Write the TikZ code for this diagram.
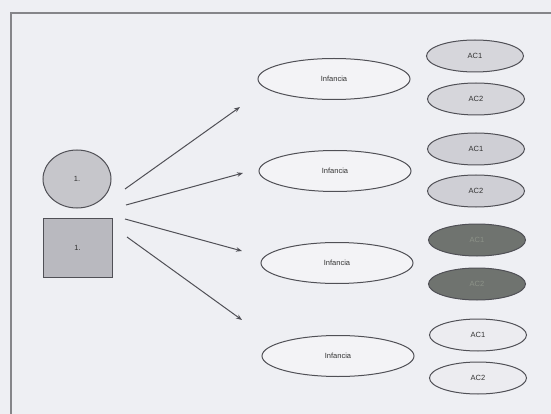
\documentclass[tikz,border=0pt]{standalone}
\usepackage{fontspec}
\setmainfont{Liberation Sans}
\usetikzlibrary{shapes.geometric,arrows.meta}
\definecolor{bg}{HTML}{EEEFF3}
\definecolor{edge}{HTML}{505056}
\definecolor{circfill}{HTML}{C6C6CB}
\definecolor{sqfill}{HTML}{B9B9BF}
\definecolor{inffill}{HTML}{F3F3F6}
\definecolor{acone}{HTML}{D6D6DB}
\definecolor{actwo}{HTML}{CFCFD5}
\definecolor{acdark}{HTML}{6F736F}
\definecolor{acdarktext}{HTML}{8C9288}
\definecolor{aclight}{HTML}{ECECF0}
\begin{document}
\begin{tikzpicture}[x=1pt,y=-1pt,
  every node/.style={font=\fontsize{7.5}{9}\selectfont, text=black!80},
  infnode/.style={ellipse, draw=edge, line width=1pt, fill=inffill, minimum width=152pt, minimum height=41pt, inner sep=0pt},
  acnode/.style={ellipse, draw=edge, line width=1pt, minimum width=97pt, minimum height=32pt, inner sep=0pt},
  arr/.style={draw=edge, line width=1pt, -{Stealth[length=6pt,width=4.5pt]}}]
\useasboundingbox (0,0) rectangle (551,414);
\fill[bg] (0,0) rectangle (551,414);
\draw[edge!70, line width=1.2pt] (11,414) -- (11,13) -- (551,13);
% left shapes
\node[ellipse, draw=edge, line width=1pt, fill=circfill, minimum width=68pt, minimum height=58pt, inner sep=0pt] (c) at (77,179) {1.};
\node[rectangle, draw=edge, line width=1pt, fill=sqfill, minimum width=69pt, minimum height=59pt, inner sep=0pt] (s) at (77.5,247.5) {1.};
% Infancia
\node[infnode] (i1) at (334,79) {Infancia};
\node[infnode] (i2) at (335,171) {Infancia};
\node[infnode] (i3) at (337,263) {Infancia};
\node[infnode] (i4) at (338,356) {Infancia};
% AC
\node[acnode, fill=acone] (a11) at (475,56) {AC1};
\node[acnode, fill=acone] (a12) at (476,99) {AC2};
\node[acnode, fill=actwo] (a21) at (476,149) {AC1};
\node[acnode, fill=actwo] (a22) at (476,191) {AC2};
\node[acnode, fill=acdark, text=acdarktext] (a31) at (477,240) {AC1};
\node[acnode, fill=acdark, text=acdarktext] (a32) at (477,284) {AC2};
\node[acnode, fill=aclight] (a41) at (478,335) {AC1};
\node[acnode, fill=aclight] (a42) at (478,378) {AC2};
% arrows
\coordinate (s1) at (125,189);
\coordinate (s2) at (126,205);
\coordinate (s3) at (125,219);
\coordinate (s4) at (127,237);
\coordinate (e1) at (240,107);
\coordinate (e2) at (243,173);
\coordinate (e3) at (242,251);
\coordinate (e4) at (242,320);
\draw[arr] (s1) -- (e1);
\draw[arr] (s2) -- (e2);
\draw[arr] (s3) -- (e3);
\draw[arr] (s4) -- (e4);
\end{tikzpicture}
\end{document}
